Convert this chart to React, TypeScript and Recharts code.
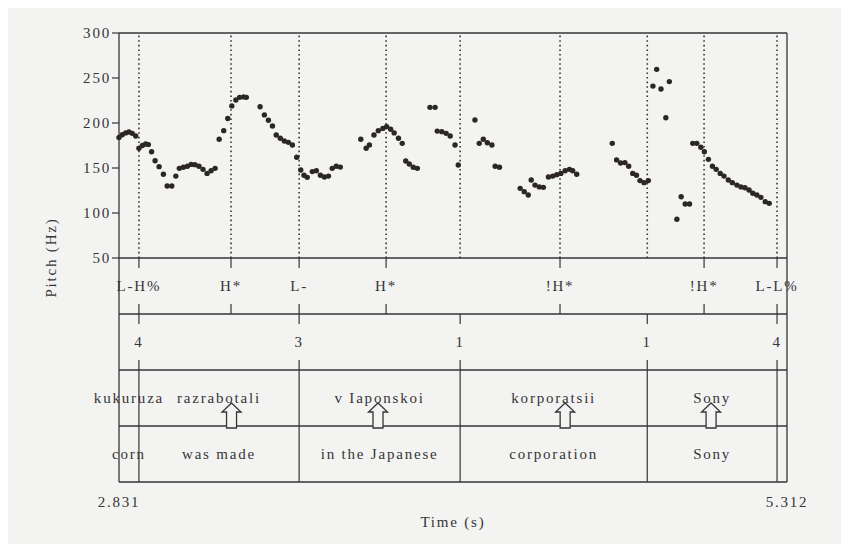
import { ScatterChart, Scatter, XAxis, YAxis, ReferenceLine } from 'recharts';

// Pitch track: time (s) and F0 (Hz)
const PITCH_T = [
  2.831, 2.843, 2.856, 2.868, 2.880, 2.893,
  2.905, 2.918, 2.930, 2.940, 2.952, 2.965, 2.980, 2.996, 3.010, 3.027, 3.042, 3.055, 3.070, 3.085, 3.099, 3.113, 3.128, 3.143, 3.158, 3.173, 3.188,
  3.203, 3.220, 3.235, 3.250, 3.265, 3.279, 3.294, 3.304,
  3.355, 3.371, 3.386, 3.401, 3.415, 3.430, 3.445, 3.460, 3.475, 3.491,
  3.506, 3.518, 3.530, 3.549, 3.564, 3.579, 3.594, 3.609, 3.623, 3.638, 3.653,
  3.729, 3.749, 3.761, 3.778, 3.794, 3.811, 3.825, 3.840, 3.853, 3.869, 3.883, 3.896, 3.909, 3.924, 3.939,
  3.986, 4.005,
  4.013, 4.030, 4.046, 4.061, 4.079, 4.091,
  4.153, 4.169, 4.184, 4.199, 4.216, 4.228, 4.244,
  4.321, 4.336, 4.351, 4.362, 4.376, 4.392, 4.407, 4.426, 4.442, 4.457, 4.472, 4.488, 4.504, 4.516, 4.531,
  4.663, 4.679, 4.694, 4.710, 4.724, 4.739, 4.753, 4.766, 4.781, 4.797,
  4.814, 4.828, 4.844, 4.862, 4.875, 4.903, 4.919, 4.934, 4.950,
  4.962, 4.977, 4.992, 5.005, 5.020, 5.035, 5.049, 5.064, 5.078, 5.094, 5.109, 5.126, 5.141, 5.156, 5.171, 5.185, 5.200, 5.215, 5.231, 5.246,
];
const PITCH_HZ = [
  184, 187, 189, 190, 188.5, 185.5,
  172, 175, 176.7, 176, 168, 158, 151.5, 143, 130, 130, 141, 149.6, 150.8, 152, 154, 153.7, 152, 148.5, 144, 147, 149.6,
  182, 191.5, 205, 219, 225.6, 228.5, 229, 228.5,
  218, 209, 203, 196.7, 186.7, 183, 180, 178.5, 175.6, 162,
  147.8, 142, 139.6, 146, 147, 142, 140, 141, 149.6, 152, 151,
  182, 172, 175.6, 186.7, 191.5, 194, 196, 193, 189, 183, 177.4, 157.8, 154.4, 150.8, 149.6,
  217.4, 217.4,
  191, 190.4, 188.5, 185.6, 175.6, 153.3,
  203.3, 177.4, 182, 178, 175.6, 152, 150.8,
  127.4, 123.7, 120, 136.7, 131, 129, 128.5, 140, 141, 142.6, 144, 147, 148.5, 147, 143,
  177.4, 159, 155.6, 156, 152, 144, 142, 136, 133.7, 136,
  241, 259.6, 237.8, 205.9, 246, 93, 118, 110, 110,
  177.4, 177.4, 173, 168, 159.6, 152, 148.5, 144, 141, 136.7, 133.7, 131, 129, 128, 125.6, 121.9, 120, 117.4, 112.6, 110.7,
];

// Annotation tiers
const TONE_T = [2.905, 3.247, 3.500, 3.823, 4.469, 5.004, 5.275];
const TONE_LABELS = ['L-H%', 'H*', 'L-', 'H*', '!H*', '!H*', 'L-L%'];
const WORD_EDGES = [2.831, 2.905, 3.500, 4.098, 4.793, 5.275];
const BREAK_LABELS = ['4', '3', '1', '1', '4'];
const WORDS = ['kukuruza', 'razrabotali', 'v Iaponskoi', 'korporatsii', 'Sony'];
const GLOSSES = ['corn', 'was made', 'in the Japanese', 'corporation', 'Sony'];
const STRESS_T = [3.249, 3.793, 4.488, 5.030];

const HZ_TICKS = [50, 100, 150, 200, 250, 300];
const TIME_TICKS = [2.831, 5.312];
const TIME_LABELS = ['2.831', '5.312'];

// tiers hang below the pitch panel, measured in the pitch axis' own units
const BASE = 50;
const TOP = 300;
const TIER = 62.22;
const TICK = 11;
const Y_MIN = BASE - 4 * TIER;
const rowLine = (i: number) => BASE - i * TIER;
const rowMid = (i: number) => BASE - (i + 0.5) * TIER;

const INK = '#353535';
const BG = '#f3f3f2';
const FONT = '"Liberation Serif", "Times New Roman", serif';
const txt = { fontFamily: FONT, fontSize: 15, letterSpacing: 1.8, fill: INK };

const pitchData = PITCH_T.map((t, i) => ({ x: t, y: PITCH_HZ[i] }));
const toneData = TONE_T.map((t, i) => ({ x: t, y: rowMid(0), label: TONE_LABELS[i] }));
const breakData = WORD_EDGES.slice(1).map((t, i) => ({ x: t, y: rowMid(1), label: BREAK_LABELS[i] }));
const wordData = WORDS.map((w, i) => ({ x: (WORD_EDGES[i] + WORD_EDGES[i + 1]) / 2, y: rowMid(2), label: w }));
const glossData = GLOSSES.map((g, i) => ({ x: (WORD_EDGES[i] + WORD_EDGES[i + 1]) / 2, y: rowMid(3), label: g }));
const stressData = STRESS_T.map((t) => ({ x: t, y: rowLine(3) }));
const dottedT = [...TONE_T, ...WORD_EDGES.slice(1)].filter((t, i, a) => a.indexOf(t) === i);

const Dot = (p: any) => <circle cx={p.cx} cy={p.cy} r={2.7} fill="#2c2626" />;

const Word = (p: any) => (
  <text x={p.cx} y={p.cy} textAnchor="middle" dominantBaseline="central" style={txt}>
    {p.payload.label}
  </text>
);

// hollow up-arrow marking the stressed syllable
const Arrow = (p: any) => {
  const { cx, cy } = p;
  const d = `M${cx},${cy - 23} L${cx + 9.5},${cy - 14} L${cx + 5},${cy - 14} L${cx + 5},${cy + 2} L${cx - 5},${cy + 2} L${cx - 5},${cy - 14} L${cx - 9.5},${cy - 14} Z`;
  return <path d={d} fill={BG} stroke={INK} strokeWidth={1.3} strokeLinejoin="miter" />;
};

const seg = (t: number, y1: number, y2: number) => [{ x: t, y: y1 }, { x: t, y: y2 }];

export default function App() {
  return (
    <div style={{ margin: -8, width: 849, height: 552, background: BG }}>
      <ScatterChart width={849} height={552} margin={{ top: 33, right: 62, bottom: 40, left: 59 }}>
        <XAxis
          type="number"
          dataKey="x"
          domain={TIME_TICKS}
          ticks={TIME_TICKS}
          tickFormatter={(v: number) => TIME_LABELS[TIME_TICKS.indexOf(v)]}
          height={30}
          tickLine={false}
          tickMargin={8}
          axisLine={{ stroke: INK, strokeWidth: 1.3 }}
          tick={txt}
          label={(p: any) => {
            const vb = p.viewBox;
            return (
              <text x={vb.x + vb.width / 2} y={vb.y + 45} textAnchor="middle" style={txt}>
                Time (s)
              </text>
            );
          }}
        />
        <YAxis
          type="number"
          dataKey="y"
          domain={[Y_MIN, TOP]}
          ticks={HZ_TICKS}
          width={60}
          tickSize={7}
          tickMargin={1}
          axisLine={{ stroke: INK, strokeWidth: 1.3 }}
          tickLine={{ stroke: INK, strokeWidth: 1.2 }}
          tick={txt}
          label={(p: any) => {
            const vb = p.viewBox;
            const x = vb.x + vb.width - 68;
            const y = vb.y + vb.height / 2;
            return (
              <text x={x} y={y} transform={`rotate(-90 ${x} ${y})`} textAnchor="middle" dominantBaseline="central" style={txt}>
                Pitch (Hz)
              </text>
            );
          }}
        />

        {/* frame of the pitch panel and tier rows */}
        <ReferenceLine y={TOP} stroke={INK} strokeWidth={1.3} />
        <ReferenceLine x={TIME_TICKS[1]} stroke={INK} strokeWidth={1.3} />
        {[0, 1, 2, 3].map((i) => (
          <ReferenceLine key={`row${i}`} y={rowLine(i)} stroke={INK} strokeWidth={1.3} />
        ))}

        {/* dotted alignment lines */}
        {dottedT.map((t) => (
          <ReferenceLine key={`dot${t}`} segment={seg(t, BASE, TOP)} stroke={INK} strokeWidth={1.6} strokeDasharray="1.6 3" />
        ))}

        {/* tone tier ticks */}
        {TONE_T.map((t) => (
          <ReferenceLine key={`tt${t}`} segment={seg(t, BASE, BASE - TICK)} stroke={INK} strokeWidth={1.2} />
        ))}
        {TONE_T.map((t) => (
          <ReferenceLine key={`tb${t}`} segment={seg(t, rowLine(1) + TICK, rowLine(1))} stroke={INK} strokeWidth={1.2} />
        ))}

        {/* break tier ticks and word boundaries */}
        {WORD_EDGES.slice(1).map((t) => (
          <ReferenceLine key={`bt${t}`} segment={seg(t, rowLine(1), rowLine(1) - TICK)} stroke={INK} strokeWidth={1.2} />
        ))}
        {WORD_EDGES.slice(1).map((t) => (
          <ReferenceLine key={`wb${t}`} segment={seg(t, rowLine(2) + TICK, Y_MIN)} stroke={INK} strokeWidth={1.2} />
        ))}

        <Scatter data={pitchData} shape={Dot} isAnimationActive={false} />
        <Scatter data={toneData} shape={Word} isAnimationActive={false} />
        <Scatter data={breakData} shape={Word} isAnimationActive={false} />
        <Scatter data={wordData} shape={Word} isAnimationActive={false} />
        <Scatter data={glossData} shape={Word} isAnimationActive={false} />
        <Scatter data={stressData} shape={Arrow} isAnimationActive={false} />
      </ScatterChart>
    </div>
  );
}
